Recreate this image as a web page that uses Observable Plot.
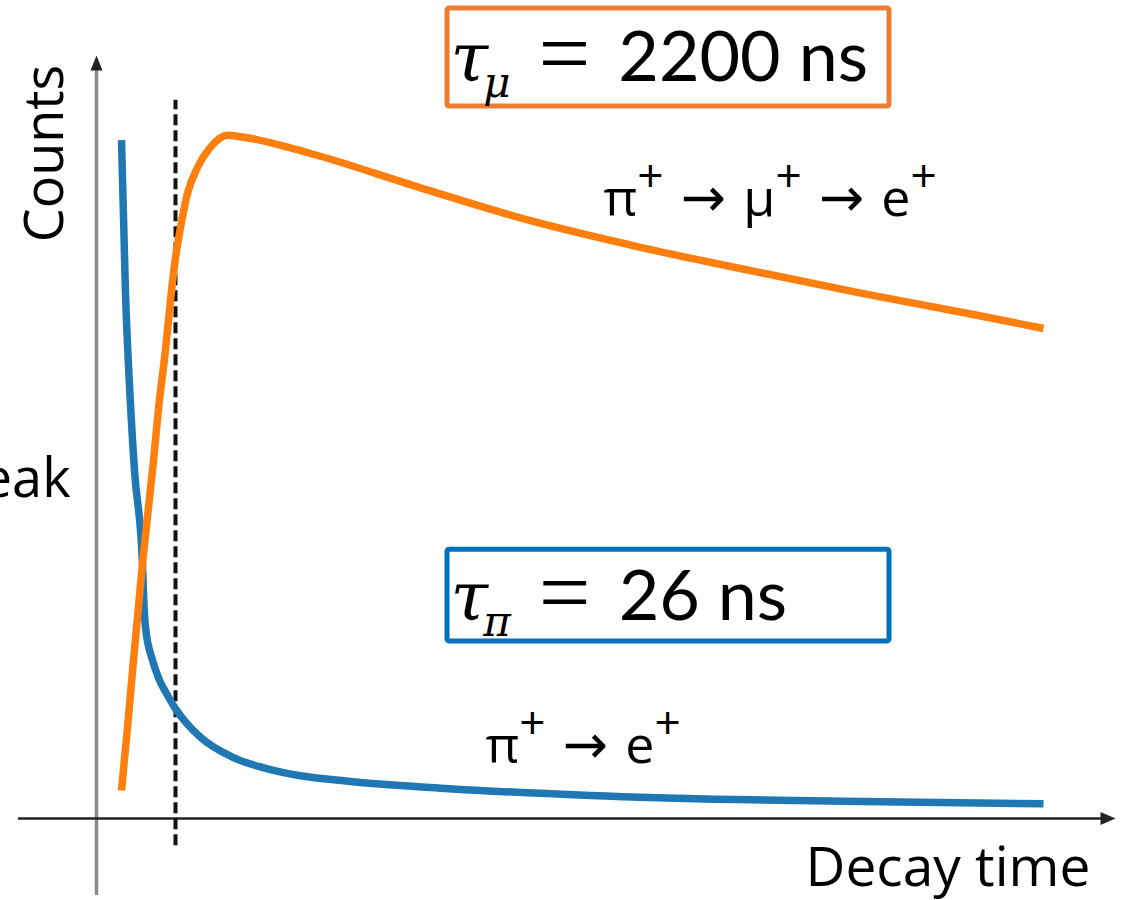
<!DOCTYPE html>
<html>
<head>
<meta charset="utf-8">
<script src="https://cdn.jsdelivr.net/npm/d3@7"></script>
<script src="https://cdn.jsdelivr.net/npm/@observablehq/plot@0.6"></script>
<style>
  body { margin: 0; background: #fff; }
  #chart svg { display: block; }
</style>
</head>
<body>
<div id="chart"></div>
<script>
// Direct decay π+ → e+ : counts against decay time (arbitrary units)
const pionTime   = [25, 29, 33.5, 38, 46, 47, 49, 56, 62, 71, 78, 104, 137, 171, 204, 254, 349, 494, 640, 785, 947];
const pionCounts = [96.9, 75.0, 60.5, 49.7, 36.4, 32.1, 27.3, 22.6, 20.1, 17.6, 15.9, 11.6, 8.7, 7.1, 6.1, 5.3, 4.3, 3.3, 2.7, 2.4, 2.1];

// Chain decay π+ → μ+ → e+
const muonTime   = [25, 31, 37, 46, 57, 62, 69, 74, 79, 84, 91, 101, 114, 131, 144, 214, 324, 434, 544, 653, 763, 873, 947];
const muonCounts = [4.0, 13.0, 22.6, 36.4, 51.1, 58.5, 67.0, 74.0, 80.1, 84.4, 89.3, 93.0, 95.9, 97.6, 97.4, 95.0, 90.1, 85.4, 81.6, 78.3, 75.1, 72.1, 70.0];

// Time cut (dashed line)
const cutTime = [79];

// Axis extents
const xAxisFrom = -78, xAxisTo = 1019;
const yAxisFrom = -11, yAxisTo = 109;

// Axis titles
const countsTitle = [{text: "Counts", t: -51, c: 95}];
const peakTitle   = [{text: "Peak", t: -26, c: 45.9}];
const timeTitle   = [{text: "Decay time", t: 709, c: -9.6}];

// Curve labels
const curveLabels = [
  {text: "π⁺ → μ⁺ → e⁺", t: 507, c: 86.1},
  {text: "π⁺ → e⁺", t: 389, c: 7.9}
];

// Lifetime boxes
const lifetimeSymbol = ["τ", "τ"];
const lifetimeSub    = ["μ", "π"];
const lifetimeValue  = ["2200 ns", "26 ns"];
const lifetimeColor  = ["#ED7D31", "#0070C0"];
const boxLeft = [351, 351], boxRight = [793, 793];
const boxTop = [115.7, 38.4], boxBottom = [101.7, 25.3];
const lifetimeT = [354, 354], lifetimeC = [105.4, 28.3];

const pion = pionTime.map((t, i) => ({t, c: pionCounts[i]}));
const muon = muonTime.map((t, i) => ({t, c: muonCounts[i]}));
const boxes = lifetimeSymbol.map((s, i) => ({
  x1: boxLeft[i], x2: boxRight[i], y1: boxBottom[i], y2: boxTop[i], color: lifetimeColor[i],
  label: s + lifetimeSub[i] + " = " + lifetimeValue[i], t: lifetimeT[i], c: lifetimeC[i]
}));

// Filled arrowheads with their tip at the anchor point
const arrowUp = {draw(ctx) { ctx.moveTo(0, 0); ctx.lineTo(6, 15); ctx.lineTo(-6, 15); ctx.closePath(); }};
const arrowRight = {draw(ctx) { ctx.moveTo(0, 0); ctx.lineTo(-15, -6.5); ctx.lineTo(-15, 6.5); ctx.closePath(); }};

const sans = "'Open Sans', 'DejaVu Sans', sans-serif";

const svg = Plot.plot({
  width: 1129,
  height: 900,
  margin: 0,
  style: {background: "#fff", overflow: "hidden"},
  x: {type: "linear", domain: [0, 1000], range: [96, 1096], axis: null},
  y: {type: "linear", domain: [0, 100], range: [818, 118], axis: null},
  marks: [
    // axes
    Plot.ruleX([0], {y1: yAxisFrom, y2: yAxisTo - 1.5, stroke: "#8a8a8a", strokeWidth: 3.5}),
    Plot.dot([{t: 0, c: yAxisTo}], {x: "t", y: "c", symbol: arrowUp, fill: "#222", stroke: "none"}),
    Plot.ruleY([0], {x1: xAxisFrom, x2: xAxisTo - 10, stroke: "#222", strokeWidth: 2.5}),
    Plot.dot([{t: xAxisTo, c: 0}], {x: "t", y: "c", symbol: arrowRight, fill: "#222", stroke: "none"}),
    // time cut
    Plot.ruleX(cutTime, {y1: -3.9, y2: 102.6, stroke: "#111", strokeWidth: 4, strokeDasharray: "11,5"}),
    // decay curves
    Plot.line(pion, {x: "t", y: "c", stroke: "#1f77b4", strokeWidth: 7.5, curve: "monotone-x", strokeLinecap: "butt"}),
    Plot.line(muon, {x: "t", y: "c", stroke: "#ff7f0e", strokeWidth: 7.5, curve: "monotone-x", strokeLinecap: "butt"}),
    // axis titles
    Plot.text(countsTitle, {x: "t", y: "c", text: "text", rotate: -90, textAnchor: "middle",
      fontSize: 54, fontFamily: sans, fill: "#000"}),
    Plot.text(peakTitle, {x: "t", y: "c", text: "text", textAnchor: "end", lineAnchor: "bottom",
      fontSize: 54, fontFamily: sans, fill: "#000"}),
    Plot.text(timeTitle, {x: "t", y: "c", text: "text", textAnchor: "start", lineAnchor: "bottom",
      fontSize: 55, fontFamily: sans, fill: "#000"}),
    // curve labels
    Plot.text(curveLabels, {x: "t", y: "c", text: "text", textAnchor: "start", lineAnchor: "bottom",
      fontSize: 52, fontFamily: sans, fill: "#000"}),
    // lifetime boxes
    Plot.rect(boxes, {x1: "x1", x2: "x2", y1: "y1", y2: "y2", fill: "white", stroke: "color", strokeWidth: 5, rx: 2}),
    Plot.text(boxes, {x: "t", y: "c", text: "label", textAnchor: "start", lineAnchor: "bottom",
      fontSize: 68, fontFamily: sans, fill: "#000"})
  ]
});

// Typeset superscripts, arrows and subscripts
const NS = "http://www.w3.org/2000/svg";
function span(parent, str, attrs) {
  const s = document.createElementNS(NS, "tspan");
  s.textContent = str;
  for (const k in attrs) s.setAttribute(k, attrs[k]);
  parent.appendChild(s);
  return s;
}
const serifItalic = {"font-family": "'DejaVu Serif', serif", "font-style": "italic"};
svg.querySelectorAll("text").forEach(el => {
  const str = el.textContent;
  if (str.includes("⁺")) {
    // particles with raised plus signs, joined by arrows
    const particles = str.split(" → ");
    el.textContent = "";
    particles.forEach((p, i) => {
      if (i > 0) span(el, " → ", {"font-family": "'DejaVu Sans', sans-serif", "font-size": 54, dy: 24, "font-weight": 500});
      span(el, p.replace("⁺", ""));
      span(el, "+", {dy: -24, "font-size": 46});
    });
  } else if (str.startsWith("τ")) {
    const sub = str[1];
    const rest = str.slice(str.indexOf("=") + 1).trim();
    el.textContent = "";
    span(el, "τ", {...serifItalic, "font-size": 68});
    span(el, sub, {...serifItalic, "font-size": 42, dx: -5, dy: 16});
    span(el, "=", {"font-family": "'Liberation Serif', serif", "font-size": 92, dx: 28, dy: -13});
    span(el, rest, {"font-family": "Lato, 'Open Sans', sans-serif", "font-size": 70, dx: 28, dy: -3});
  }
});

document.getElementById("chart").appendChild(svg);
</script>
</body>
</html>
